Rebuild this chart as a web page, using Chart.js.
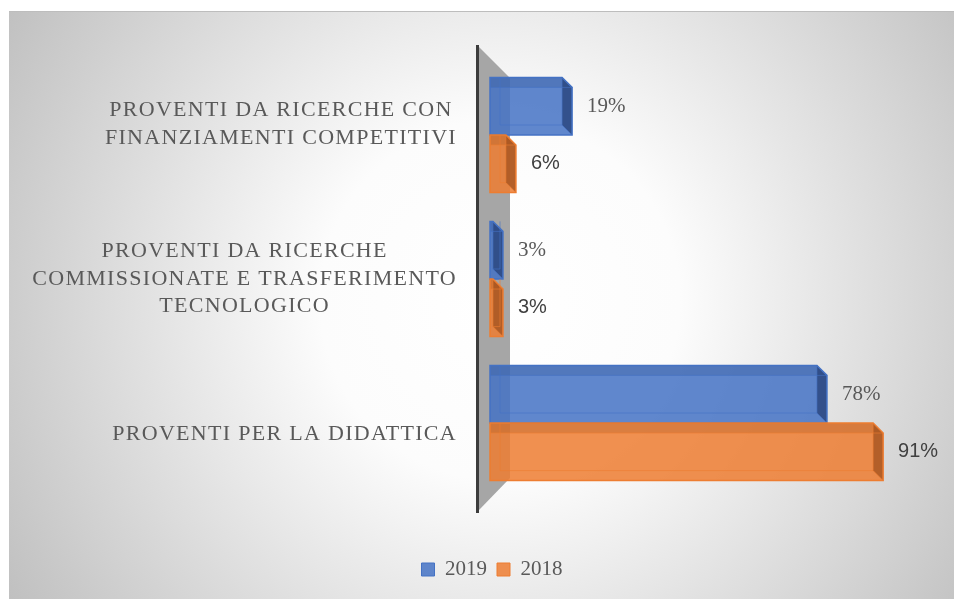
<!DOCTYPE html>
<html>
<head>
<meta charset="utf-8">
<script src="https://cdn.jsdelivr.net/npm/chart.js@4/dist/chart.umd.min.js"></script>
<style>
  html, body { margin:0; padding:0; background:#ffffff; }
  #wrap { width:954px; height:599px; position:relative; }
</style>
</head>
<body>
<div id="wrap"><canvas id="c" width="954" height="599"></canvas></div>
<script>
// ---- data ----
const categories = [
  ["PROVENTI DA RICERCHE CON", "FINANZIAMENTI COMPETITIVI"],
  ["PROVENTI DA RICERCHE", "COMMISSIONATE E TRASFERIMENTO", "TECNOLOGICO"],
  ["PROVENTI PER LA DIDATTICA"]
];
const seriesNames = ["2019", "2018"];
const values2019 = [19, 3, 78];
const values2018 = [6, 3, 91];

// ---- styles ----
const baseColors = ["#4472c4", "#ed7d31"];
const fillColors = ["rgba(68,114,196,0.85)", "rgba(237,125,49,0.85)"];
const darkColors = ["rgba(44,72,128,0.85)", "rgba(160,80,30,0.75)"];
const topColors  = ["rgba(50,85,150,0.3)", "rgba(170,85,30,0.3)"];

function rr(ctx, pts) {
  ctx.beginPath();
  ctx.moveTo(pts[0][0], pts[0][1]);
  for (let i = 1; i < pts.length; i++) ctx.lineTo(pts[i][0], pts[i][1]);
  ctx.closePath();
}

const deco = {
  id: 'deco',
  beforeDraw(chart) {
    const ctx = chart.ctx;
    ctx.save();
    const g = ctx.createRadialGradient(500, 300, 0, 500, 300, 600);
    g.addColorStop(0, '#ffffff');
    g.addColorStop(0.3, '#fcfcfc');
    g.addColorStop(1, '#bcbcbc');
    ctx.fillStyle = g;
    ctx.fillRect(9, 11, 945, 588);
    ctx.fillStyle = '#bdbdbd';
    ctx.fillRect(9, 11, 945, 1);
    ctx.restore();
  },
  beforeDatasetsDraw(chart) {
    const ctx = chart.ctx;
    const a = chart.chartArea;
    ctx.save();
    ctx.fillStyle = '#a6a6a6';
    rr(ctx, [[a.left - 11, a.top - 16], [a.left + 20, a.top + 15], [a.left + 20, a.bottom - 17], [a.left - 11, a.bottom + 15]]);
    ctx.fill();
    ctx.fillStyle = '#3c3c3c';
    ctx.fillRect(a.left - 14, a.top - 18, 3, a.bottom - a.top + 36);
    ctx.restore();
  },
  beforeDatasetDraw() { return false; },
  afterDatasetsDraw(chart) {
    const ctx = chart.ctx;
    const d = 10;
    ctx.save();
    for (let i = 0; i < categories.length; i++) {
      for (let s = 0; s < chart.data.datasets.length; s++) {
        const el = chart.getDatasetMeta(s).data[i];
        const xb = el.base, xe = el.x;
        const yt = el.y - el.height / 2, yb = el.y + el.height / 2;
        rr(ctx, [[xb, yt], [xe - d, yt], [xe, yt + d], [xe, yb], [xb, yb]]);
        ctx.fillStyle = fillColors[s];
        ctx.fill();
        rr(ctx, [[xb, yt], [xe - d, yt], [xe, yt + d], [xb, yt + d]]);
        ctx.fillStyle = topColors[s];
        ctx.fill();
        rr(ctx, [[xe - d, yt], [xe, yt + d], [xe, yb], [xe - d, yb - d]]);
        ctx.fillStyle = darkColors[s];
        ctx.fill();
        ctx.strokeStyle = baseColors[s];
        ctx.lineWidth = 1.5;
        rr(ctx, [[xb, yt], [xe - d, yt], [xe, yt + d], [xe, yb], [xb, yb]]);
        ctx.stroke();
        ctx.lineWidth = 1;
        ctx.globalAlpha = 0.6;
        ctx.beginPath();
        ctx.moveTo(xb, yt + d); ctx.lineTo(xe, yt + d);
        ctx.moveTo(xe - d, yt); ctx.lineTo(xe - d, yb - d); ctx.lineTo(xb + d, yb - d); ctx.lineTo(xb + d, yt);
        ctx.moveTo(xe - d, yb - d); ctx.lineTo(xe, yb);
        ctx.stroke();
        ctx.globalAlpha = 1;
        const v = chart.data.datasets[s].data[i];
        ctx.textBaseline = 'middle';
        ctx.textAlign = 'left';
        if (s === 0) {
          ctx.font = '21px "Liberation Serif"';
          ctx.fillStyle = '#595959';
        } else {
          ctx.font = '20px "Liberation Sans"';
          ctx.fillStyle = '#404040';
        }
        ctx.fillText(v + '%', xe + 15, el.y);
      }
    }
    ctx.restore();
  },
  afterDraw(chart) {
    const ctx = chart.ctx;
    const ys = chart.scales.y;
    const mid = (ys.top + ys.bottom) / 2;
    const right = 457;
    const lh = 27.5;
    ctx.save();
    ctx.font = '22px "Liberation Serif"';
    ctx.letterSpacing = '1.3px';
    ctx.fillStyle = '#595959';
    ctx.textAlign = 'center';
    ctx.textBaseline = 'middle';
    categories.forEach((lines, i) => {
      const y = ys.getPixelForTick(i);
      const yc = mid + (y - mid) * 155 / 144;
      const w = Math.max(...lines.map(l => ctx.measureText(l).width));
      const cx = right - w / 2;
      lines.forEach((l, k) => {
        ctx.fillText(l, cx, yc + (k - (lines.length - 1) / 2) * lh);
      });
    });
    ctx.restore();
  }
};

new Chart(document.getElementById('c'), {
  type: 'bar',
  data: {
    labels: categories,
    datasets: [
      { label: seriesNames[0], data: values2019, backgroundColor: fillColors[0], borderColor: baseColors[0], borderWidth: 1 },
      { label: seriesNames[1], data: values2018, backgroundColor: fillColors[1], borderColor: baseColors[1], borderWidth: 1 }
    ]
  },
  options: {
    indexAxis: 'y',
    responsive: false,
    animation: false,
    devicePixelRatio: 1,
    layout: { padding: { left: 62, right: 32, top: 63, bottom: 9 } },
    categoryPercentage: 0.8,
    barPercentage: 1.0,
    scales: {
      x: {
        min: 0, max: 100,
        grid: { display: false },
        border: { display: false },
        ticks: { display: false },
        afterFit: s => { s.height = 54; }
      },
      y: {
        grid: { display: false },
        border: { display: false },
        ticks: { display: false },
        afterFit: s => { s.width = 428; }
      }
    },
    plugins: {
      legend: {
        position: 'bottom',
        labels: {
          boxWidth: 13, boxHeight: 13, padding: 10,
          color: '#595959',
          font: { family: 'Liberation Serif', size: 21 }
        }
      },
      tooltip: { enabled: false }
    }
  },
  plugins: [deco]
});
</script>
</body>
</html>
